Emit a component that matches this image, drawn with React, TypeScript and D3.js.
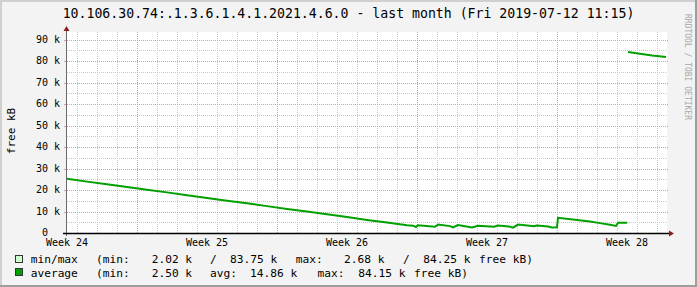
import React from "react";
import * as d3 from "d3";

const TITLE = "10.106.30.74:.1.3.6.1.4.1.2021.4.6.0 - last month (Fri 2019-07-12 11:15)";
const Y_LABEL = "free kB";
const WATERMARK = "RRDTOOL / TOBI OETIKER";

// time in days from start of Week 24 (Mon); null value = gap
const DAYS = [
  0, 1, 2, 3, 4, 5, 6, 7, 8, 9, 10, 11, 12, 13, 14, 15, 16, 17,
  17.3, 17.45, 17.55, 18.4, 18.55, 19.15, 19.3, 19.55, 20.25, 20.55, 21.35, 21.55,
  22.1, 22.3, 22.55, 23.35, 23.5, 24.05, 24.25, 24.5, 24.55, 25.4, 26.15, 26.65,
  27.15, 27.45, 27.55, 28.0, 28.02,
  28.05, 28.65, 29.25, 29.95,
];
const AVG_K: (number | null)[] = [
  25.2, 23.9, 22.7, 21.4, 20.1, 18.9, 17.6, 16.3, 15.0, 13.8, 12.5, 11.2, 10.0, 8.7, 7.4, 6.1, 4.9, 3.6,
  3.4, 2.8, 3.6, 2.9, 3.9, 3.2, 2.6, 3.7, 2.6, 3.4, 2.9, 3.5,
  3.0, 2.5, 3.9, 3.1, 3.5, 3.0, 2.6, 2.7, 7.1, 6.2, 5.4, 4.6,
  3.8, 3.3, 4.8, 4.8, null,
  84.15, 83.4, 82.6, 81.9,
];

const Y_TICKS = [0, 10000, 20000, 30000, 40000, 50000, 60000, 70000, 80000, 90000];
const Y_MINOR = [5000, 15000, 25000, 35000, 45000, 55000, 65000, 75000, 85000];
const WEEK_DAYS = [0, 7, 14, 21, 28];
const WEEK_LABELS = ["Week 24", "Week 25", "Week 26", "Week 27", "Week 28"];
const MAJOR_GRID_DAYS = [3.5, 10.5, 17.5, 24.5];
const MINOR_GRID_DAYS = [0.5, 1.5, 2.5, 4.5, 5.5, 6.5, 7.5, 8.5, 9.5, 11.5, 12.5, 13.5, 14.5, 15.5, 16.5, 18.5, 19.5, 20.5, 21.5, 22.5, 23.5, 25.5, 26.5, 27.5, 28.5, 29.5];

const LEGEND_MINMAX = [
  { x: 30.7, t: "min/max" },
  { x: 96, t: "(min:" },
  { x: 151.7, t: "2.02 k" },
  { x: 210, t: "/" },
  { x: 230, t: "83.75 k" },
  { x: 295.7, t: "max:" },
  { x: 344, t: "2.68 k" },
  { x: 403, t: "/" },
  { x: 423.3, t: "84.25 k" },
  { x: 479, t: "free kB)" },
];
const LEGEND_AVG = [
  { x: 30.7, t: "average" },
  { x: 96, t: "(min:" },
  { x: 151.7, t: "2.50 k" },
  { x: 210, t: "avg:" },
  { x: 250, t: "14.86 k" },
  { x: 317.5, t: "max:" },
  { x: 358.3, t: "84.15 k" },
  { x: 414, t: "free kB)" },
];

const W = 697;
const H = 287;
const PL = 67, PR = 667, PT = 32, PB = 233;
const FONT = "'DejaVu Sans Mono', monospace";
const GREEN = "#00a000";
const RED = "#8b1c1c";

export default function App() {
  const x = d3.scaleLinear().domain([0, 30]).range([PL, PR]);
  const y = d3.scaleLinear().domain([0, 93500]).range([PB, PT]);
  const pts = DAYS.map((d, i) => ({ d, v: AVG_K[i] }));
  const line = d3
    .line<{ d: number; v: number | null }>()
    .defined((p) => p.v !== null)
    .x((p) => x(p.d))
    .y((p) => y((p.v as number) * 1000));

  return (
    <svg width={W} height={H} style={{ position: "absolute", left: 0, top: 0, display: "block" }} fontFamily={FONT}>
      <rect x={0} y={0} width={W} height={H} fill="#f3f3f3" />
      {/* frame */}
      <rect x={0} y={0} width={W} height={2} fill="#d0d0d0" />
      <rect x={0} y={0} width={2} height={H} fill="#d0d0d0" />
      <rect x={W - 2} y={0} width={2} height={H} fill="#9e9e9e" />
      <rect x={0} y={H - 2} width={W} height={2} fill="#9e9e9e" />

      <text x={W / 2} y={17.5} textAnchor="middle" fontSize={13.2} fill="#000">{TITLE}</text>

      <rect x={PL} y={PT} width={PR - PL} height={PB - PT} fill="#ffffff" />

      {/* minor grid */}
      {Y_MINOR.map((v) => (
        <line key={"ym" + v} x1={PL} x2={PR} y1={Math.round(y(v)) + 0.5} y2={Math.round(y(v)) + 0.5} stroke="#c8c8c8" strokeDasharray="1,1" />
      ))}
      {MINOR_GRID_DAYS.map((d) => (
        <line key={"xm" + d} x1={x(d) + 0.5} x2={x(d) + 0.5} y1={PT} y2={PB} stroke="#c8c8c8" strokeDasharray="1,1" />
      ))}
      {/* major grid */}
      {Y_TICKS.filter((v) => v > 0).map((v) => (
        <g key={"yM" + v}>
          <line x1={PL} x2={PR + 1} y1={Math.round(y(v)) + 0.5} y2={Math.round(y(v)) + 0.5} stroke="#e59a9a" strokeDasharray="1,1" />
          <line x1={PL - 3} x2={PL} y1={Math.round(y(v)) + 0.5} y2={Math.round(y(v)) + 0.5} stroke="#e59a9a" />
        </g>
      ))}
      {MAJOR_GRID_DAYS.map((d) => (
        <line key={"xM" + d} x1={x(d) + 0.5} x2={x(d) + 0.5} y1={PT} y2={PB} stroke="#e59a9a" strokeDasharray="1,1" />
      ))}

      {/* data */}
      <path d={line(pts) || ""} fill="none" stroke={GREEN} strokeWidth={2} strokeLinejoin="miter" />

      {/* axes */}
      <line x1={PL - 0.5} x2={PL - 0.5} y1={PT - 1} y2={PB + 3} stroke="#6a6a6a" strokeWidth={1} />
      <line x1={PL - 4} x2={PR + 2} y1={PB + 0.5} y2={PB + 0.5} stroke="#000" strokeWidth={1.3} />
      <path d={`M${PL - 0.5},${PT - 6} L${PL - 3.5},${PT - 1} L${PL + 2.5},${PT - 1} Z`} fill={RED} />
      <path d={`M${PR + 7},${PB + 0.5} L${PR + 2},${PB - 2.5} L${PR + 2},${PB + 3.5} Z`} fill={RED} />

      {/* y tick labels */}
      {Y_TICKS.map((v) => (
        <text key={"yl" + v} x={60} y={y(v) + 3.4} textAnchor="end" fontSize={10} fill="#000" style={{ whiteSpace: "pre" }}>
          {v === 0 ? "0  " : `${v / 1000} k`}
        </text>
      ))}
      {/* x labels */}
      {WEEK_DAYS.map((d, i) => (
        <text key={"xl" + d} x={x(d)} y={245.5} textAnchor="middle" fontSize={10} fill="#000">{WEEK_LABELS[i]}</text>
      ))}

      <text transform="translate(14.5,131) rotate(-90)" textAnchor="middle" fontSize={11} fill="#000">{Y_LABEL}</text>
      <text transform="translate(685,14) rotate(90)" textAnchor="start" fontSize={8} fill="#a8a8a8">{WATERMARK}</text>

      {/* legend */}
      <rect x={15.5} y={255.5} width={7} height={7} fill="#ccffcc" stroke="#333" strokeWidth={1} />
      <rect x={15.5} y={268.5} width={7} height={7} fill={GREEN} stroke="#333" strokeWidth={1} />
      {LEGEND_MINMAX.map((s, i) => (
        <text key={"l1" + i} x={s.x} y={263.2} fontSize={11.2} fill="#000">{s.t}</text>
      ))}
      {LEGEND_AVG.map((s, i) => (
        <text key={"l2" + i} x={s.x} y={276.6} fontSize={11.2} fill="#000">{s.t}</text>
      ))}
    </svg>
  );
}
